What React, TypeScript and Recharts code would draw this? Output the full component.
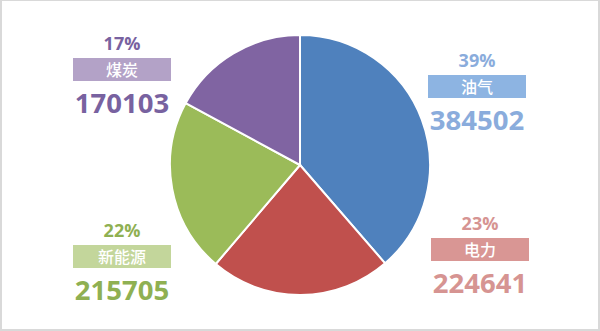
import { PieChart, Pie, Cell } from 'recharts'

const names = ['油气', '电力', '新能源', '煤炭']
const values = [384502, 224641, 215705, 170103]
const sliceColors = ['#4f81bd', '#c0504d', '#9bbb59', '#8064a2']
const textColors = ['#8aacdc', '#d69492', '#8fb052', '#7862a0']
const boxColors = ['#8db4e2', '#d99694', '#c3d69b', '#b3a2c7']
// label block offsets from pie centre: [dx of block centre, dy of box top]
const labelAnchors = [
  [177, -90],
  [180, 73],
  [-178, 80],
  [-178, -107],
]

const data = names.map((name, i) => ({ name, value: values[i] }))

function renderLabel(props: any) {
  const { cx, cy, index, percent, value, name } = props
  const [dx, dy] = labelAnchors[index]
  const x = cx + dx
  const top = cy + dy
  const boxW = 98
  const boxH = 23
  return (
    <g key={`lbl-${index}`}>
      <text
        x={x}
        y={top - 8}
        textAnchor="middle"
        fill={textColors[index]}
        fontFamily="'Open Sans', sans-serif"
        fontWeight={700}
        fontSize={18}
      >
        {Math.round(percent * 100)}%
      </text>
      <rect x={x - boxW / 2} y={top} width={boxW} height={boxH} fill={boxColors[index]} />
      <text
        x={x}
        y={top + 17.5}
        textAnchor="middle"
        fill="#ffffff"
        fontFamily="'Noto Sans CJK SC', sans-serif"
        fontWeight={500}
        fontSize={16}
      >
        {name}
      </text>
      <text
        x={x}
        y={top + 55}
        textAnchor="middle"
        fill={textColors[index]}
        fontFamily="'Open Sans', sans-serif"
        fontWeight={700}
        fontSize={27.5}
      >
        {value}
      </text>
    </g>
  )
}

export default function App() {
  return (
    <div
      style={{
        position: 'absolute',
        left: 0,
        top: 0,
        width: 600,
        height: 331,
        background: '#ffffff',
        boxSizing: 'border-box',
        borderTop: '1px solid #d9d9d9',
        borderLeft: '2px solid #d9d9d9',
        borderRight: '2px solid #d9d9d9',
        borderBottom: '2px solid #d9d9d9',
        overflow: 'hidden',
      }}
    >
      <div style={{ position: 'absolute', left: -2, top: -1 }}>
        <PieChart width={600} height={331} margin={{ top: 0, right: 0, bottom: 0, left: 0 }}>
          <Pie
            data={data}
            dataKey="value"
            nameKey="name"
            cx={300}
            cy={165}
            outerRadius={130}
            startAngle={90}
            endAngle={-270}
            stroke="#ffffff"
            strokeWidth={2}
            label={renderLabel}
            labelLine={false}
            isAnimationActive={false}
          >
            {data.map((d, i) => (
              <Cell key={d.name} fill={sliceColors[i]} />
            ))}
          </Pie>
        </PieChart>
      </div>
    </div>
  )
}
